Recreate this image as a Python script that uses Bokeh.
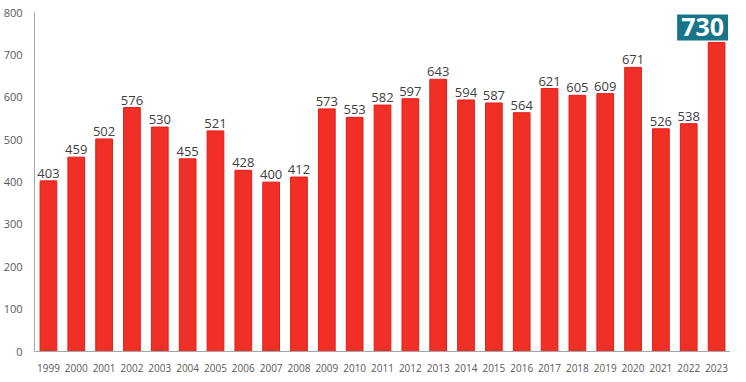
from bokeh.plotting import figure
from bokeh.models import ColumnDataSource, LabelSet, Label, Range1d
from bokeh.core.properties import value
from bokeh.embed import file_html
from bokeh.resources import INLINE

years = [str(y) for y in range(1999, 2024)]
values = [403, 459, 502, 576, 530, 455, 521, 428, 400, 412, 573, 553, 582,
          597, 643, 594, 587, 564, 621, 605, 609, 671, 526, 538, 730]
y_ticks = [0, 100, 200, 300, 400, 500, 600, 700, 800]

src = ColumnDataSource(dict(x=years[:-1], y=values[:-1], t=[str(v) for v in values[:-1]]))
src_all = ColumnDataSource(dict(x=years, y=values))

p = figure(x_range=years, y_range=Range1d(0, 829), width=730, height=374,
           output_backend="svg", toolbar_location=None,
           min_border_left=0, min_border_right=0, min_border_top=0, min_border_bottom=0)
p.x_range.range_padding = 0

p.vbar(x="x", top="y", width=0.6, source=src_all, fill_color="#f03027",
       line_color="#e41d17", line_width=1)

labels = LabelSet(x="x", y="y", text="t", source=src, text_align="center",
                  text_baseline="bottom", y_offset=3, text_font_size="13px",
                  text_color="#404040", text_font=value("Open Sans"))
p.add_layout(labels)

# highlight last year: categorical synthetic coordinate = index + 0.5
hl = Label(x=len(years) - 1 + 0.5, y=values[-1], text=str(values[-1]),
           text_align="center", text_baseline="bottom", y_offset=2, x_offset=-14,
           text_font_size="25px", text_font_style="bold", text_color="white",
           text_font="Open Sans", background_fill_color="#17758a", padding=4)
p.add_layout(hl)

p.xgrid.visible = False
p.ygrid.visible = False
p.outline_line_color = None

p.yaxis.ticker = y_ticks
p.yaxis.bounds = (0, 800)
p.yaxis.axis_line_color = "#a6a6a6"
p.yaxis.major_tick_line_color = None
p.yaxis.minor_tick_line_color = None
p.yaxis.major_label_text_font = "Open Sans"
p.yaxis.major_label_text_font_size = "11px"
p.yaxis.major_label_text_color = "#595959"
p.yaxis.major_label_standoff = 6

p.xaxis.axis_line_color = "#a6a6a6"
p.xaxis.major_tick_line_color = None
p.xaxis.minor_tick_line_color = None
p.xaxis.major_label_text_font = "Open Sans"
p.xaxis.major_label_text_font_size = "10px"
p.xaxis.major_label_text_color = "#595959"
p.xaxis.major_label_standoff = 6

open("out.html", "w").write(file_html(p, INLINE))
